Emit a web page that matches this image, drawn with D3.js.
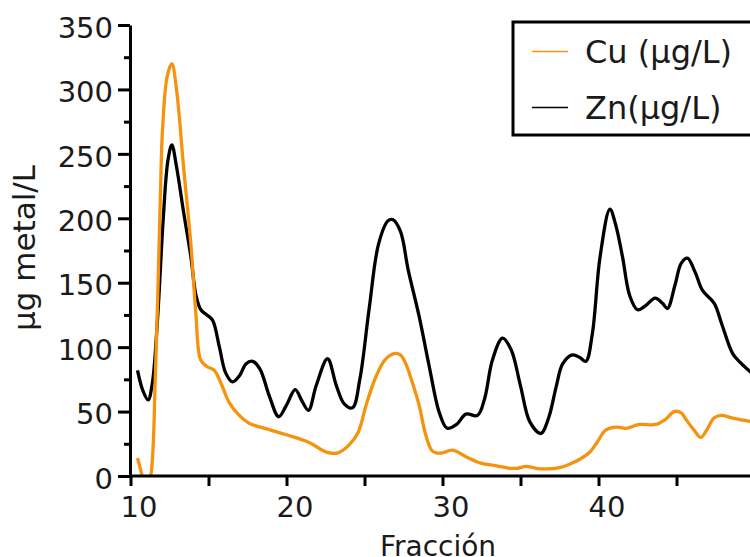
<!DOCTYPE html>
<html>
<head>
	<meta charset="utf-8">
	<title>Cu y Zn por fracción</title>
	<style>
body {
  background-color: #ffffff;
  margin: 0;
  overflow: hidden;
}

svg {
  display: block;
  font-family: "DejaVu Sans", Verdana, sans-serif;
}
	</style>
</head>
<body>

	<script src="https://d3js.org/d3.v7.min.js"></script>

	<script>
// Data (fraction, value)
var cuFraction = [10.45, 10.75, 11.0, 11.3, 11.6, 11.9, 12.05, 12.35, 12.65, 12.95, 13.4, 13.87, 14.19, 14.5, 14.9, 15.37, 15.8, 16.33, 16.97, 17.6, 18.9, 20.0, 21.45, 22.3, 22.74, 23.3, 24.0, 24.6, 25.1, 25.73, 26.3, 26.9, 27.3, 27.65, 28.0, 28.5, 28.9, 29.3, 29.6, 30.0, 30.64, 31.5, 32.46, 33.4, 34.3, 34.8, 35.35, 36.0, 36.6, 37.5, 38.2, 38.8, 39.4, 39.9, 40.4, 40.7, 41.2, 41.76, 42.6, 43.68, 44.3, 44.85, 45.3, 45.6, 46.1, 46.56, 47.0, 47.4, 47.85, 48.6, 49.45, 49.9];
var cuValues = [14, 0, -12, 0, 80, 210, 268, 310, 320, 300, 240, 180, 126, 90, 85, 82, 72, 57, 47, 41, 36, 32, 26, 20, 18, 18, 24, 34, 55, 77, 90, 95, 94, 87, 75, 55, 33, 20, 18, 18, 20, 15, 10, 8, 6, 6, 7.5, 6, 5.5, 6.5, 9.5, 13, 18, 26, 35, 37, 38, 37, 40, 40, 44, 50, 49, 44, 36, 30, 37, 45, 47, 45, 43, 42];

var znFraction = [10.45, 10.8, 11.13, 11.4, 11.73, 12.1, 12.4, 12.65, 12.95, 13.4, 13.87, 14.2, 14.51, 14.9, 15.26, 15.7, 16.1, 16.54, 17.0, 17.4, 17.82, 18.3, 18.9, 19.5, 20.0, 20.56, 21.0, 21.41, 21.9, 22.63, 23.2, 23.7, 24.23, 24.7, 25.3, 25.9, 26.5, 26.8, 27.3, 27.8, 28.5, 29.15, 29.8, 30.3, 30.9, 31.5, 32.24, 32.7, 33.2, 33.85, 34.4, 35.0, 35.6, 36.3, 36.8, 37.3, 37.7, 38.33, 38.8, 39.19, 39.6, 40.1, 40.73, 41.1, 41.54, 42.0, 42.5, 43.0, 43.63, 44.1, 44.42, 44.9, 45.3, 45.7, 46.2, 46.67, 47.42, 47.9, 48.6, 49.1, 49.9];
var znValues = [82, 66, 59, 72, 121, 200, 245, 257, 240, 205, 170, 140, 129, 125, 121, 100, 80, 73, 78, 87, 89, 83, 62, 46, 55, 67, 58, 51, 70, 91, 70, 56, 53, 75, 130, 180, 198, 199, 190, 160, 124, 85, 49, 37, 40, 48, 47, 60, 90, 107, 98, 70, 42, 33, 45, 70, 87, 94, 92, 89, 110, 170, 207, 195, 170, 140, 129, 132, 138, 134, 130, 148, 165, 169, 158, 144, 134, 118, 95, 88, 79];

var xTicks = [10, 20, 30, 40];
var yTicks = [0, 50, 100, 150, 200, 250, 300, 350];
var seriesNames = ["Cu (µg/L)", "Zn(µg/L)"];
var seriesColors = ["#f5930f", "#000000"];

var width = 750,
  height = 557;

var svg = d3.select("body")
  .append("svg")
  .attr("width", width)
  .attr("height", height);

var x = d3.scaleLinear().domain([10, 50]).range([130.5, 754.5]);
var y = d3.scaleLinear().domain([0, 350]).range([476, 25]);

// keep the curves above the x axis
svg.append("clipPath")
  .attr("id", "plotclip")
  .append("rect")
  .attr("x", 130)
  .attr("y", 0)
  .attr("width", width)
  .attr("height", 476);

var line = d3.line()
  .x(function(d) { return x(d[0]); })
  .y(function(d) { return y(d[1]); })
  .curve(d3.curveCatmullRom.alpha(0.5));

var series = [
  d3.zip(cuFraction, cuValues),
  d3.zip(znFraction, znValues)
];

// zinc drawn first, copper on top
svg.append("g")
  .attr("clip-path", "url(#plotclip)")
  .selectAll("path")
  .data([1, 0])
  .enter().append("path")
  .attr("d", function(i) { return line(series[i]); })
  .attr("fill", "none")
  .attr("stroke", function(i) { return seriesColors[i]; })
  .attr("stroke-width", 3.3)
  .attr("stroke-linejoin", "round");

// y axis: majors every 50, minors in between
var yAxis = svg.append("g")
  .attr("transform", "translate(130,0)")
  .call(d3.axisLeft(y).tickValues(yTicks).tickSize(12).tickSizeOuter(0).tickPadding(5));

svg.append("g")
  .attr("transform", "translate(130,0)")
  .call(d3.axisLeft(y).tickValues(d3.range(25, 350, 50)).tickSize(6).tickSizeOuter(0).tickFormat(""))
  .select(".domain").remove();

// x axis: ticks every 5, labels every 10
var xAxis = svg.append("g")
  .attr("transform", "translate(0,476)")
  .call(d3.axisBottom(x).tickValues(d3.range(10, 50, 5)).tickSize(10).tickSizeOuter(0)
    .tickFormat(function(d) { return xTicks.indexOf(d) >= 0 ? d : ""; }).tickPadding(10));

xAxis.select(".domain").attr("d", "M130,0H760");
xAxis.selectAll("text").attr("dx", 8);

svg.selectAll(".domain, .tick line")
  .attr("stroke", "#000")
  .attr("stroke-width", 3);

svg.selectAll(".tick text")
  .attr("fill", "#1a1a1a")
  .style("font-size", "29px")
  .style("font-family", "'DejaVu Sans', Verdana, sans-serif");

yAxis.selectAll("text").attr("dy", "0.42em");

// axis titles
svg.append("text")
  .attr("x", 438)
  .attr("y", 556)
  .attr("text-anchor", "middle")
  .attr("fill", "#1a1a1a")
  .style("font-size", "28px")
  .text("Fracción");

svg.append("text")
  .attr("transform", "translate(35,248) rotate(-90)")
  .attr("text-anchor", "middle")
  .attr("fill", "#1a1a1a")
  .style("font-size", "31px")
  .text("µg metal/L");

// legend
var legend = svg.append("g");

legend.append("rect")
  .attr("x", 513)
  .attr("y", 22)
  .attr("width", 260)
  .attr("height", 113)
  .attr("fill", "#fff")
  .attr("stroke", "#000")
  .attr("stroke-width", 3);

var item = legend.selectAll(".item")
  .data(seriesNames)
  .enter().append("g")
  .attr("class", "item")
  .attr("transform", function(d, i) { return "translate(0," + (51.5 + i * 56) + ")"; });

item.append("line")
  .attr("x1", 532)
  .attr("x2", 568)
  .attr("stroke", function(d, i) { return seriesColors[i]; })
  .attr("stroke-width", 1.5);

item.append("text")
  .attr("x", 585)
  .attr("dy", "0.36em")
  .attr("fill", "#1a1a1a")
  .style("font-size", "32px")
  .text(function(d) { return d; });
	</script>

</body>
</html>
